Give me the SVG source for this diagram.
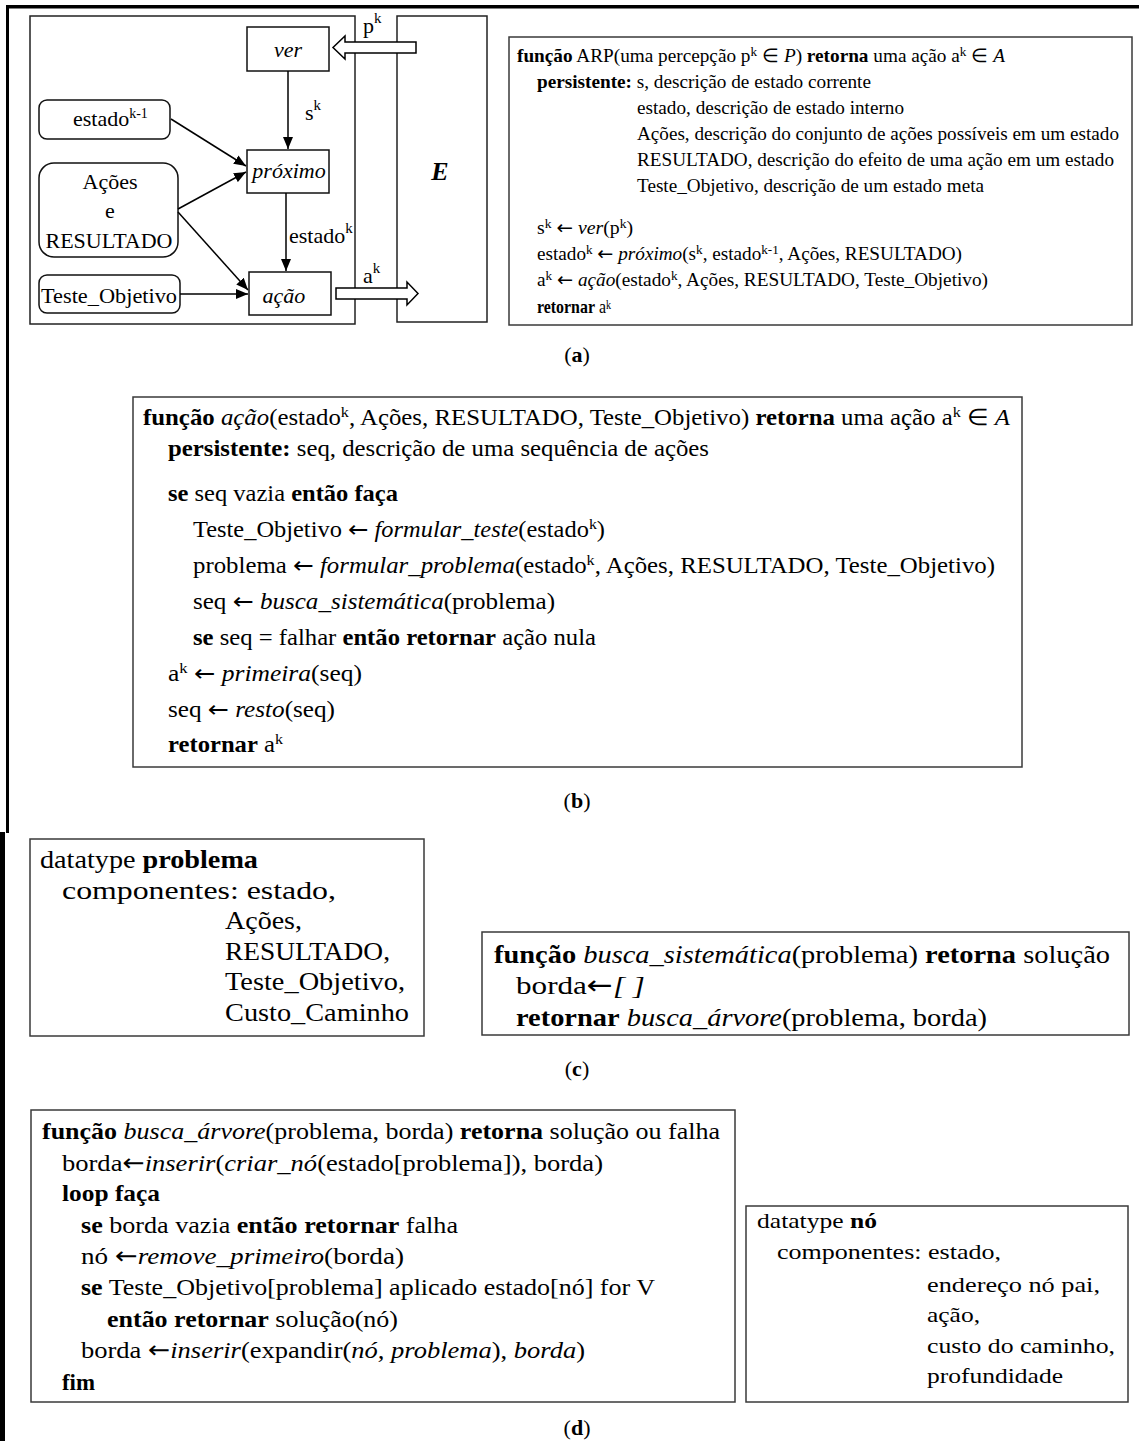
<svg xmlns="http://www.w3.org/2000/svg" width="1139" height="1441" viewBox="0 0 1139 1441">
<style>
text { font-family: "Liberation Serif", "Times New Roman", serif; fill: #000; }
.b { font-weight: bold; }
.i { font-style: italic; }
.ar { font-family: "DejaVu Sans", sans-serif; font-weight: normal; font-style: normal; }
.box { fill: #fff; stroke: #3a3a3a; stroke-width: 1.5; }
.nd { fill: #fff; stroke: #111; stroke-width: 1.5; }
.frame { fill: none; stroke: #222; stroke-width: 1.5; }
.ln { stroke: #000; stroke-width: 1.5; fill: none; }
.blk { fill: #fff; stroke: #000; stroke-width: 1.5; }
.s22 { font-size: 22px; }
.s19 { font-size: 19px; }
.s23 { font-size: 23px; }
.s26 { font-size: 26px; }
.s24 { font-size: 24px; }
.mid { text-anchor: middle; }
</style>
<defs>
<marker id="ah" markerWidth="12" markerHeight="10" refX="12" refY="5" orient="auto" markerUnits="userSpaceOnUse">
<path d="M0,0 L12,5 L0,10 Z" fill="#000"/>
</marker>
</defs>
<rect width="1139" height="1441" fill="#fff"/>
<!-- outer page frame -->
<g id="page-frame">
<rect x="6" y="5" width="1133" height="3.5" fill="#000"/>
<rect x="6" y="5" width="3" height="828" fill="#000"/>
<rect x="0" y="832" width="5" height="609" fill="#000"/>
</g>

<!-- (a) agent diagram -->
<g id="agent-frame"><rect class="frame" x="30" y="16" width="325" height="308"/></g>
<g id="env-E"><rect class="frame" x="397" y="16" width="90" height="306"/>
<text class="s26 b i mid" x="440" y="180">E</text></g>
<g id="node-ver"><rect class="nd" x="247" y="27" width="82" height="44"/>
<text class="s22 i mid" x="288" y="57">ver</text></g>
<g id="node-proximo"><rect class="nd" x="247" y="150" width="82" height="43"/>
<text class="s22 i mid" x="289" y="178">próximo</text></g>
<g id="node-acao"><rect class="nd" x="249" y="272" width="82" height="43"/>
<text class="s22 i mid" x="284" y="303">ação</text></g>
<g id="node-estado-k1"><rect class="nd" x="39" y="100" width="131" height="39" rx="8"/>
<text class="s22" x="73" y="126">estado<tspan dy="-8" font-size="14">k-1</tspan></text></g>
<g id="node-acoes-resultado"><rect class="nd" x="39" y="163" width="139" height="94" rx="15"/>
<text class="s22 mid" x="110" y="189">Ações</text>
<text class="s22 mid" x="110" y="218">e</text>
<text class="s22 mid" x="109" y="248">RESULTADO</text></g>
<g id="node-teste"><rect class="nd" x="39" y="275" width="141" height="38" rx="8"/>
<text class="s22" x="41" y="303" textLength="136" lengthAdjust="spacingAndGlyphs">Teste_Objetivo</text></g>

<g id="connectors">
<line class="ln" x1="288" y1="71" x2="288" y2="149" marker-end="url(#ah)"/>
<line class="ln" x1="286" y1="193" x2="286" y2="271" marker-end="url(#ah)"/>
<line class="ln" x1="171" y1="119" x2="246" y2="166" marker-end="url(#ah)"/>
<line class="ln" x1="178" y1="209" x2="246" y2="172" marker-end="url(#ah)"/>
<line class="ln" x1="178" y1="212" x2="248" y2="290" marker-end="url(#ah)"/>
<line class="ln" x1="180" y1="294" x2="248" y2="294" marker-end="url(#ah)"/>
<polygon class="blk" points="416,42 345,42 345,36 333,47.5 345,59 345,53 416,53"/>
<polygon class="blk" points="336,288 407,288 407,282 418,293.5 407,305 407,299 336,299"/>
<text class="s22" x="363" y="33">p<tspan dy="-10" font-size="15">k</tspan></text>
<text class="s22" x="305" y="120">s<tspan dy="-10" font-size="15">k</tspan></text>
<text class="s22" x="289" y="243">estado<tspan dy="-10" font-size="15">k</tspan></text>
<text class="s22" x="363" y="283">a<tspan dy="-10" font-size="15">k</tspan></text>
</g>

<!-- (a) pseudocode -->
<g id="box-arp">
<rect class="box" x="509" y="37" width="623" height="288"/>
<text class="s19" x="517" y="62" textLength="488" lengthAdjust="spacingAndGlyphs"><tspan class="b">função</tspan> ARP(uma percepção p<tspan dy="-6" font-size="13">k</tspan><tspan dy="6"> ∈ </tspan><tspan class="i">P</tspan>) <tspan class="b">retorna</tspan> uma ação a<tspan dy="-6" font-size="13">k</tspan><tspan dy="6"> ∈ </tspan><tspan class="i">A</tspan></text>
<text class="s19" x="537" y="88" textLength="334" lengthAdjust="spacingAndGlyphs"><tspan class="b">persistente:</tspan> s, descrição de estado corrente</text>
<text class="s19" x="637" y="114" textLength="267" lengthAdjust="spacingAndGlyphs">estado, descrição de estado interno</text>
<text class="s19" x="637" y="140" textLength="482" lengthAdjust="spacingAndGlyphs">Ações, descrição do conjunto de ações possíveis em um estado</text>
<text class="s19" x="637" y="166" textLength="477" lengthAdjust="spacingAndGlyphs">RESULTADO,  descrição do efeito de uma ação em um estado</text>
<text class="s19" x="637" y="192" textLength="347" lengthAdjust="spacingAndGlyphs">Teste_Objetivo, descrição de um estado meta</text>
<text class="s19" x="537" y="234" textLength="96" lengthAdjust="spacingAndGlyphs">s<tspan dy="-6" font-size="13">k</tspan><tspan dy="6"> </tspan><tspan class="ar">←</tspan> <tspan class="i">ver</tspan>(p<tspan dy="-6" font-size="13">k</tspan><tspan dy="6">)</tspan></text>
<text class="s19" x="537" y="260" textLength="425" lengthAdjust="spacingAndGlyphs">estado<tspan dy="-6" font-size="13">k</tspan><tspan dy="6"> </tspan><tspan class="ar">←</tspan> <tspan class="i">próximo</tspan>(s<tspan dy="-6" font-size="13">k</tspan><tspan dy="6">, estado</tspan><tspan dy="-6" font-size="13">k-1</tspan><tspan dy="6">, Ações, RESULTADO)</tspan></text>
<text class="s19" x="537" y="286" textLength="451" lengthAdjust="spacingAndGlyphs">a<tspan dy="-6" font-size="13">k</tspan><tspan dy="6"> </tspan><tspan class="ar">←</tspan> <tspan class="i">ação</tspan>(estado<tspan dy="-6" font-size="13">k</tspan><tspan dy="6">, Ações, RESULTADO,  Teste_Objetivo)</tspan></text>
<text class="s19" x="537" y="313" textLength="74" lengthAdjust="spacingAndGlyphs"><tspan class="b">retornar</tspan> a<tspan dy="-4" font-size="12">k</tspan></text>
</g>
<text class="s22 mid" x="577" y="362">(<tspan class="b">a</tspan>)</text>

<!-- (b) -->
<g id="box-acao">
<rect class="box" x="133" y="397" width="889" height="370"/>
<text class="s23" x="143" y="425" textLength="867" lengthAdjust="spacingAndGlyphs"><tspan class="b">função</tspan> <tspan class="i">ação</tspan>(estado<tspan dy="-8" font-size="15">k</tspan><tspan dy="8">, Ações, RESULTADO,  Teste_Objetivo)  </tspan><tspan class="b">retorna</tspan> uma ação a<tspan dy="-8" font-size="15">k</tspan><tspan dy="8"> ∈ </tspan><tspan class="i">A</tspan></text>
<text class="s23" x="168" y="456" textLength="541" lengthAdjust="spacingAndGlyphs"><tspan class="b">persistente:</tspan> seq, descrição de uma sequência de ações</text>
<text class="s23" x="168" y="501" textLength="230" lengthAdjust="spacingAndGlyphs"><tspan class="b">se</tspan> seq vazia <tspan class="b">então faça</tspan></text>
<text class="s23" x="193" y="537" textLength="412" lengthAdjust="spacingAndGlyphs">Teste_Objetivo <tspan class="ar">←</tspan> <tspan class="i">formular_teste</tspan>(estado<tspan dy="-8" font-size="15">k</tspan><tspan dy="8">)</tspan></text>
<text class="s23" x="193" y="573" textLength="802" lengthAdjust="spacingAndGlyphs">problema <tspan class="ar">←</tspan> <tspan class="i">formular_problema</tspan>(estado<tspan dy="-8" font-size="15">k</tspan><tspan dy="8">, Ações, RESULTADO,  Teste_Objetivo)</tspan></text>
<text class="s23" x="193" y="609" textLength="362" lengthAdjust="spacingAndGlyphs">seq <tspan class="ar">←</tspan> <tspan class="i">busca_sistemática</tspan>(problema)</text>
<text class="s23" x="193" y="645" textLength="403" lengthAdjust="spacingAndGlyphs"><tspan class="b">se</tspan> seq = falhar <tspan class="b">então retornar</tspan> ação nula</text>
<text class="s23" x="168" y="681" textLength="194" lengthAdjust="spacingAndGlyphs">a<tspan dy="-8" font-size="15">k</tspan><tspan dy="8"> </tspan><tspan class="ar">←</tspan> <tspan class="i">primeira</tspan>(seq)</text>
<text class="s23" x="168" y="717" textLength="167" lengthAdjust="spacingAndGlyphs">seq <tspan class="ar">←</tspan> <tspan class="i">resto</tspan>(seq)</text>
<text class="s23" x="168" y="752" textLength="115" lengthAdjust="spacingAndGlyphs"><tspan class="b">retornar</tspan> a<tspan dy="-8" font-size="15">k</tspan></text>
</g>
<text class="s22 mid" x="577" y="808">(<tspan class="b">b</tspan>)</text>

<!-- (c) -->
<g id="box-problema">
<rect class="box" x="30" y="839" width="394" height="197"/>
<text class="s26" x="40" y="868" textLength="218" lengthAdjust="spacingAndGlyphs">datatype <tspan class="b">problema</tspan></text>
<text class="s26" x="62" y="899" textLength="274" lengthAdjust="spacingAndGlyphs">componentes: estado,</text>
<text class="s26" x="225" y="929" textLength="77" lengthAdjust="spacingAndGlyphs">Ações,</text>
<text class="s26" x="225" y="960" textLength="165" lengthAdjust="spacingAndGlyphs">RESULTADO,</text>
<text class="s26" x="225" y="990" textLength="180" lengthAdjust="spacingAndGlyphs">Teste_Objetivo,</text>
<text class="s26" x="225" y="1021" textLength="184" lengthAdjust="spacingAndGlyphs">Custo_Caminho</text>
</g>
<g id="box-busca-sistematica">
<rect class="box" x="482" y="932" width="647" height="103"/>
<text class="s26" x="494" y="963" textLength="616" lengthAdjust="spacingAndGlyphs"><tspan class="b">função</tspan> <tspan class="i">busca_sistemática</tspan>(problema) <tspan class="b">retorna</tspan> solução</text>
<text class="s26" x="516" y="994" textLength="129" lengthAdjust="spacingAndGlyphs">borda<tspan class="ar" font-weight="bold">←</tspan><tspan class="i">[ ]</tspan></text>
<text class="s26" x="516" y="1026" textLength="471" lengthAdjust="spacingAndGlyphs"><tspan class="b">retornar</tspan> <tspan class="i">busca_árvore</tspan>(problema, borda)</text>
</g>
<text class="s22 mid" x="577" y="1076">(<tspan class="b">c</tspan>)</text>

<!-- (d) -->
<g id="box-busca-arvore">
<rect class="box" x="31" y="1110" width="704" height="292"/>
<text class="s24" x="42" y="1139" textLength="678" lengthAdjust="spacingAndGlyphs"><tspan class="b">função</tspan> <tspan class="i">busca_árvore</tspan>(problema, borda) <tspan class="b">retorna</tspan> solução ou falha</text>
<text class="s24" x="62" y="1171" textLength="541" lengthAdjust="spacingAndGlyphs">borda<tspan class="ar" font-weight="bold">←</tspan><tspan class="i">inserir</tspan>(<tspan class="i">criar_nó</tspan>(estado[problema]), borda)</text>
<text class="s24" x="62" y="1201" textLength="98" lengthAdjust="spacingAndGlyphs"><tspan class="b">loop faça</tspan></text>
<text class="s24" x="81" y="1233" textLength="377" lengthAdjust="spacingAndGlyphs"><tspan class="b">se</tspan> borda vazia <tspan class="b">então retornar</tspan> falha</text>
<text class="s24" x="81" y="1264" textLength="323" lengthAdjust="spacingAndGlyphs">nó <tspan class="ar">←</tspan><tspan class="i">remove_primeiro</tspan>(borda)</text>
<text class="s24" x="81" y="1295" textLength="574" lengthAdjust="spacingAndGlyphs"><tspan class="b">se</tspan> Teste_Objetivo[problema]  aplicado estado[nó] for V</text>
<text class="s24" x="107" y="1327" textLength="291" lengthAdjust="spacingAndGlyphs"><tspan class="b">então retornar</tspan> solução(nó)</text>
<text class="s24" x="81" y="1358" textLength="504" lengthAdjust="spacingAndGlyphs">borda <tspan class="ar">←</tspan><tspan class="i">inserir</tspan>(expandir(<tspan class="i">nó, problema</tspan>), <tspan class="i">borda</tspan>)</text>
<text class="s24" x="62" y="1390" textLength="33" lengthAdjust="spacingAndGlyphs"><tspan class="b">fim</tspan></text>
</g>
<g id="box-no">
<rect class="box" x="746" y="1206" width="382" height="196"/>
<text class="s22" x="757" y="1228" textLength="120" lengthAdjust="spacingAndGlyphs">datatype <tspan class="b">nó</tspan></text>
<text class="s22" x="777" y="1259" textLength="224" lengthAdjust="spacingAndGlyphs">componentes: estado,</text>
<text class="s22" x="927" y="1292" textLength="173" lengthAdjust="spacingAndGlyphs">endereço nó pai,</text>
<text class="s22" x="927" y="1322" textLength="53" lengthAdjust="spacingAndGlyphs">ação,</text>
<text class="s22" x="927" y="1353" textLength="188" lengthAdjust="spacingAndGlyphs">custo do caminho,</text>
<text class="s22" x="927" y="1383" textLength="136" lengthAdjust="spacingAndGlyphs">profundidade</text>
</g>
<text class="s22 mid" x="577" y="1435">(<tspan class="b">d</tspan>)</text>
</svg>
